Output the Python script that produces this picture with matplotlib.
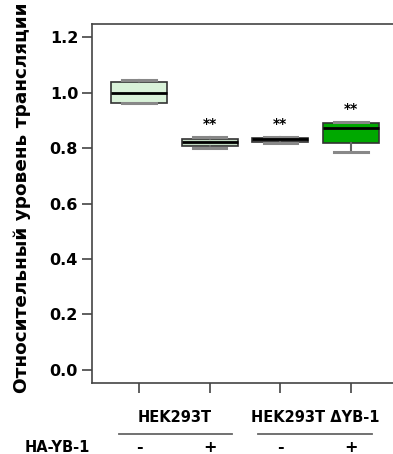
import matplotlib
matplotlib.use("Agg")
import matplotlib.pyplot as plt
import matplotlib.transforms as mtransforms

# данные (оценка по рисунку)
positions = [1, 2, 3, 4]
q1 = [0.963, 0.808, 0.822, 0.817]
med = [0.998, 0.822, 0.831, 0.872]
q3 = [1.037, 0.831, 0.835, 0.889]
whislo = [0.961, 0.801, 0.819, 0.786]
whishi = [1.044, 0.838, 0.838, 0.894]
signif = ["", "**", "**", "**"]
box_colors = ["#d9f2d9", "#c3dcc3", "#8e8e8e", "#00a800"]
ha_yb1 = ["-", "+", "-", "+"]
groups = ["HEK293T", "HEK293T \u0394YB-1"]
group_centers = [1.51, 3.49]
yticks = [0.0, 0.2, 0.4, 0.6, 0.8, 1.0, 1.2]

plt.rcParams['font.family'] = ['DejaVu Sans']
plt.rcParams['font.weight'] = 'bold'

fig = plt.figure(figsize=(3.93, 4.54), dpi=100)
ax = fig.add_axes([92 / 393, 71 / 454, 0.776, 359 / 454])

stats = []
for i in range(len(positions)):
    stats.append({'q1': q1[i], 'med': med[i], 'q3': q3[i],
                  'whislo': whislo[i], 'whishi': whishi[i], 'fliers': []})

bp = ax.bxp(stats, positions=positions, widths=0.79, patch_artist=True,
            showfliers=False,
            boxprops=dict(edgecolor='#333333', linewidth=1.2),
            medianprops=dict(color='black', linewidth=2),
            whiskerprops=dict(color='#666666', linewidth=1.5),
            capprops=dict(color='#888888', linewidth=2.2),
            capwidths=0.47)
for patch, c in zip(bp['boxes'], box_colors):
    patch.set_facecolor(c)

# звёздочки значимости
for x, top, s in zip(positions, whishi, signif):
    if s:
        ax.text(x, top + 0.047, s, ha='center', va='center', fontsize=10,
                fontweight='bold')

ax.set_xlim(0.335, 4.65)
ax.set_ylim(-0.047, 1.247)
ax.set_yticks(yticks)
ax.set_yticklabels(["%.1f" % v for v in yticks])
ax.set_xticks(positions)
ax.set_xticklabels([])
ax.tick_params(axis='both', direction='out', length=7, width=1.2,
               color='#444444', labelsize=11.5)
ax.tick_params(axis='y', pad=3)
for side in ['left', 'top', 'bottom']:
    ax.spines[side].set_color('#444444')
    ax.spines[side].set_linewidth(1.2)
ax.spines['right'].set_visible(False)

fig.text(22 / 393, 1 - 198 / 454, "Относительный уровень трансляции",
         rotation=90, ha='center', va='center', fontsize=13.3,
         fontweight='bold')

# подписи под осью
trans = mtransforms.blended_transform_factory(ax.transData, ax.transAxes)
for c, g in zip(group_centers, groups):
    ax.text(c, -0.096, g, transform=trans, ha='center', va='center',
            fontsize=10.5, fontweight='bold')
    ax.plot([c - 0.8, c + 0.8], [-0.142, -0.142], transform=trans,
            color='#666666', linewidth=1.3, clip_on=False)
for x, s in zip(positions, ha_yb1):
    ax.text(x, -0.181, s, transform=trans, ha='center', va='center',
            fontsize=11.5, fontweight='bold')
fig.text(57 / 393, 1 - 448 / 454, "HA-YB-1", ha='center', va='center',
         fontsize=10.5, fontweight='bold')

fig.savefig("out.png", dpi=100)
